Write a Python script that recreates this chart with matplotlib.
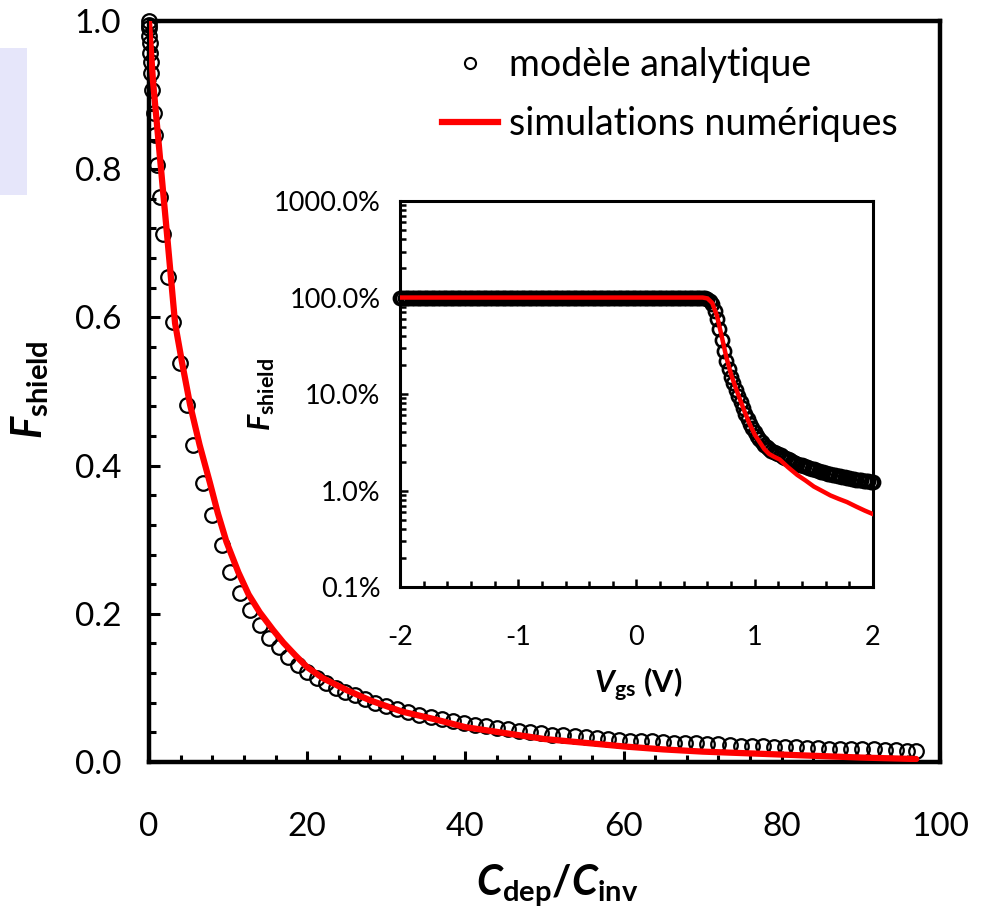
import matplotlib.pyplot as plt
import numpy as np
from matplotlib.lines import Line2D
from matplotlib.patches import Rectangle
from matplotlib.ticker import MultipleLocator, FixedLocator, FuncFormatter, NullFormatter

plt.rcParams['font.family'] = ['Lato', 'DejaVu Sans']
plt.rcParams['mathtext.fontset'] = 'custom'
plt.rcParams['mathtext.rm'] = 'Lato'
plt.rcParams['mathtext.bf'] = 'Lato:bold'
plt.rcParams['mathtext.it'] = 'Lato:italic'
plt.rcParams['mathtext.bfit'] = 'Lato:bold:italic'

# main plot: F_shield vs Cdep/Cinv, analytic model (circles)
ratio_model = [0.0, 0.0, 0.02, 0.05, 0.1, 0.15, 0.2, 0.3, 0.4, 0.6, 0.75, 1.0, 1.4, 1.8,
               2.4, 3.0, 3.9, 4.8, 5.6, 6.8, 8.0, 9.2, 10.2, 11.5, 12.8, 14.0, 15.2, 16.4,
               17.6, 18.8, 20.0, 21.2, 22.4, 23.6, 24.8, 26.0, 27.3, 28.6, 30.0, 31.4,
               32.8, 34.2, 35.6, 37.0, 38.4, 39.8, 41.2, 42.6, 44.0, 45.4, 46.8, 48.2,
               49.6, 51.0, 52.4, 53.8, 55.2, 56.6, 58.0, 59.4, 60.8, 62.2, 63.6, 65.0,
               66.4, 67.8, 69.2, 70.6, 72.0, 73.4, 74.8, 76.2, 77.6, 79.0, 80.4, 81.8,
               83.2, 84.6, 86.0, 87.4, 88.8, 90.2, 91.6, 93.0, 94.4, 95.8, 97.0]
f_model = [1.0, 0.995, 0.99, 0.98, 0.970, 0.957, 0.945, 0.930, 0.907, 0.876, 0.846, 0.806,
           0.762, 0.712, 0.655, 0.594, 0.538, 0.482, 0.428, 0.377, 0.333, 0.293, 0.257,
           0.228, 0.205, 0.185, 0.168, 0.155, 0.142, 0.131, 0.121, 0.113, 0.106, 0.100,
           0.095, 0.090, 0.085, 0.080, 0.076, 0.072, 0.068, 0.064, 0.061, 0.058, 0.055,
           0.052, 0.050, 0.048, 0.046, 0.044, 0.042, 0.040, 0.039, 0.037, 0.036, 0.035,
           0.034, 0.032, 0.031, 0.030, 0.029, 0.029, 0.028, 0.027, 0.026, 0.025, 0.025,
           0.024, 0.024, 0.023, 0.022, 0.022, 0.021, 0.020, 0.020, 0.020, 0.019, 0.019,
           0.018, 0.018, 0.017, 0.017, 0.017, 0.016, 0.016, 0.015, 0.015]

# numerical simulations (red line)
ratio_sim = [0.0, 0.5, 1.5, 2.3, 3.3, 4.2, 5.2, 6.4, 7.7, 8.7, 9.8, 11.3, 12.6, 14.0,
             15.7, 17.0, 18.5, 20.0, 22.0, 25.0, 28.0, 32.0, 36.0, 40.0, 45.0, 50.0,
             55.0, 60.0, 65.0, 70.0, 75.0, 80.0, 85.0, 90.0, 97.0]
f_sim = [1.0, 0.92, 0.803, 0.71, 0.592, 0.538, 0.482, 0.428, 0.377, 0.336, 0.297, 0.256,
         0.226, 0.202, 0.178, 0.161, 0.144, 0.128, 0.113, 0.097, 0.083, 0.068, 0.058,
         0.047, 0.039, 0.031, 0.026, 0.021, 0.017, 0.014, 0.012, 0.010, 0.008, 0.006,
         0.004]

# inset: F_shield vs Vgs, analytic model (dense sweep, flat at 100 % up to ~0.56 V)
vgs_flat = np.arange(-2.0, 0.57, 0.02)
f_flat = np.full(vgs_flat.size, 1.0)
vgs_drop = [0.58, 0.60, 0.62, 0.64, 0.66, 0.68, 0.70, 0.72, 0.74, 0.76, 0.78, 0.80,
            0.82, 0.84, 0.86, 0.88, 0.90, 0.92, 0.94, 0.96, 0.98, 1.00, 1.02, 1.04,
            1.06, 1.08, 1.10, 1.12, 1.14, 1.16, 1.18, 1.20, 1.22, 1.24, 1.26, 1.28,
            1.30, 1.32, 1.34, 1.36, 1.38, 1.40, 1.42, 1.44, 1.46, 1.48, 1.50, 1.52,
            1.54, 1.56, 1.58, 1.60, 1.62, 1.64, 1.66, 1.68, 1.70, 1.72, 1.74, 1.76,
            1.78, 1.80, 1.82, 1.84, 1.86, 1.88, 1.90, 1.92, 1.94, 1.96, 1.98, 2.00]
f_drop = [0.99, 0.97, 0.92, 0.85, 0.73, 0.60, 0.47, 0.36, 0.28, 0.22, 0.18, 0.15,
          0.13, 0.11, 0.095, 0.083, 0.072, 0.062, 0.055, 0.049, 0.044, 0.040, 0.037, 0.034,
          0.032, 0.030, 0.0285, 0.027, 0.026, 0.0252, 0.0245, 0.0238, 0.0231, 0.0225,
          0.0218, 0.0212, 0.0206, 0.0200, 0.0195, 0.0190, 0.0186, 0.0182, 0.0178, 0.0175,
          0.0172, 0.0169, 0.0166, 0.0163, 0.0160, 0.0157, 0.0155, 0.0152, 0.0150, 0.0148,
          0.0146, 0.0144, 0.0142, 0.0140, 0.0138, 0.0137, 0.0135, 0.0134, 0.0132, 0.0131,
          0.0130, 0.0129, 0.0128, 0.0127, 0.0126, 0.0125, 0.0124, 0.0123]

vgs_sim = [-2.0, -1.5, -1.0, -0.5, 0.0, 0.5, 0.56, 0.60, 0.64, 0.68, 0.72, 0.76, 0.80,
           0.84, 0.88, 0.92, 0.96, 1.00, 1.04, 1.08, 1.12, 1.16, 1.21, 1.28, 1.36, 1.43,
           1.50, 1.57, 1.64, 1.71, 1.78, 1.86, 1.93, 2.00]
fv_sim = [1.0, 1.0, 1.0, 1.0, 1.0, 1.0, 1.0, 0.98, 0.88, 0.65, 0.40, 0.24, 0.16, 0.115,
          0.085, 0.063, 0.048, 0.038, 0.032, 0.027, 0.024, 0.0225, 0.021, 0.0175, 0.0145,
          0.0127, 0.011, 0.0099, 0.0089, 0.0082, 0.0076, 0.0068, 0.0062, 0.0057]

fig = plt.figure(figsize=(9.82, 9.13), dpi=100)
fig.patches.append(Rectangle((0, 0.786), 0.0275, 0.161, transform=fig.transFigure,
                             facecolor='#e6e6fa', edgecolor='none', zorder=0))

ax = fig.add_axes([0.1517, 0.1654, 0.8055, 0.8116])
ax.plot(ratio_model, f_model, 'o', mfc='none', mec='black', ms=10.5, mew=1.6,
        clip_on=False, zorder=3)
ax.plot(ratio_sim, f_sim, '-', color='red', lw=4.5, solid_capstyle='round', zorder=4)
ax.set_xlim(0, 100)
ax.set_ylim(0, 1.0)
ax.xaxis.set_major_locator(MultipleLocator(20))
ax.xaxis.set_minor_locator(MultipleLocator(4))
ax.yaxis.set_major_locator(MultipleLocator(0.2))
ax.yaxis.set_minor_locator(MultipleLocator(0.04))
ax.yaxis.set_major_formatter(FuncFormatter(lambda v, p: '%.1f' % v))
ax.tick_params(which='both', direction='in', width=2.2, top=False, right=False)
ax.tick_params(which='major', length=8, labelsize=24)
ax.tick_params(which='minor', length=5)
ax.tick_params(axis='x', which='major', pad=36)
ax.tick_params(axis='y', which='major', pad=20)
for s in ax.spines.values():
    s.set_linewidth(3.2)

fig.text(0.031, 0.573, r'$\mathbfit{F}_{\mathbf{shield}}$', rotation=90, fontsize=30,
         ha='center', va='center')
fig.text(0.568, 0.03, r'$\mathbfit{C}_{\mathbf{dep}}\mathbf{/}\mathbfit{C}_{\mathbf{inv}}$',
         fontsize=30, ha='center', va='center')

handles = [Line2D([], [], ls='none', marker='o', mfc='none', mec='black', ms=8, mew=1.5),
           Line2D([], [], color='red', lw=4.5)]
ax.legend(handles, ['modèle analytique', 'simulations numériques'], loc='upper right',
          bbox_to_anchor=(0.98, 1.0), frameon=False, fontsize=27, handlelength=1.5,
          handletextpad=0.3, labelspacing=0.62, borderaxespad=0.3)

# inset
ins = fig.add_axes([0.4073, 0.357, 0.4817, 0.4228])
ins.semilogy(vgs_flat, f_flat, 'o', mfc='none', mec='black', ms=9.5, mew=1.9,
             clip_on=False, zorder=3)
ins.semilogy(vgs_drop, f_drop, 'o', mfc='none', mec='black', ms=9.5, mew=1.9,
             clip_on=False, zorder=3)
ins.semilogy(vgs_sim, fv_sim, '-', color='red', lw=3.2, zorder=4)
ins.set_xlim(-2, 2)
ins.set_ylim(0.001, 10)
ins.xaxis.set_major_locator(MultipleLocator(1))
ins.xaxis.set_minor_locator(MultipleLocator(0.2))
ins.yaxis.set_major_locator(FixedLocator([0.001, 0.01, 0.1, 1, 10]))
ins.yaxis.set_minor_locator(FixedLocator([m * 10.0 ** e for e in range(-3, 1)
                                          for m in range(2, 10)]))
ins.yaxis.set_major_formatter(FuncFormatter(lambda v, p: '%.1f%%' % (v * 100)))
ins.yaxis.set_minor_formatter(NullFormatter())
ins.xaxis.set_major_formatter(FuncFormatter(lambda v, p: '%d' % v))
ins.tick_params(which='both', direction='in', width=1.8, top=False, right=False)
ins.tick_params(which='major', length=6, labelsize=19.5)
ins.tick_params(which='minor', length=4)
ins.tick_params(axis='x', which='major', pad=27)
ins.tick_params(axis='y', which='major', pad=14)
for s in ins.spines.values():
    s.set_linewidth(2.2)

fig.text(0.266, 0.568, r'$\mathbfit{F}_{\mathbf{shield}}$', rotation=90, fontsize=22,
         ha='center', va='center')
fig.text(0.65, 0.25, r'$\mathbfit{V}_{\mathbf{gs}}\ \mathbf{(V)}$', fontsize=22,
         ha='center', va='center')

fig.savefig('out.png', dpi=100)
